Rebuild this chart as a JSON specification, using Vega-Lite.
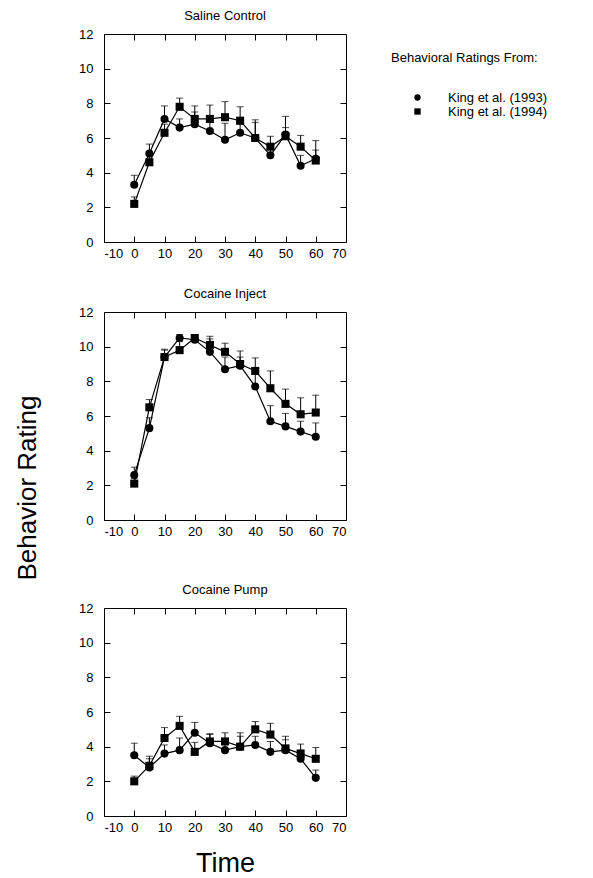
{
  "$schema": "https://vega.github.io/schema/vega-lite/v6.json",
  "padding": {"left": 15, "top": 9, "right": 0, "bottom": 0},
  "background": "white",
  "title": {"text": "Behavior Rating", "orient": "left", "fontSize": 26, "font": "Liberation Sans", "fontWeight": "normal", "anchor": "middle", "offset": 37, "dx": -45},
  "config": {
    "font": "Liberation Sans",
    "view": {"stroke": "black", "strokeWidth": 1},
    "axis": {"grid": false, "labelFont": "Liberation Sans", "labelFontSize": 13, "labelColor": "black", "tickColor": "black", "domain": false},
    "title": {"font": "Liberation Sans", "fontSize": 13, "fontWeight": "normal", "offset": 5},
    "legend": {"titleFont": "Liberation Sans", "labelFont": "Liberation Sans"}
  },
  "datasets": {
    "ratings": [
      {"panel": "Saline Control", "src": "King et al. (1993)", "t": 0, "v": 3.3, "hi": 3.85},
      {"panel": "Saline Control", "src": "King et al. (1993)", "t": 5, "v": 5.1, "hi": 5.65},
      {"panel": "Saline Control", "src": "King et al. (1993)", "t": 10, "v": 7.1, "hi": 7.85},
      {"panel": "Saline Control", "src": "King et al. (1993)", "t": 15, "v": 6.6, "hi": 7.1},
      {"panel": "Saline Control", "src": "King et al. (1993)", "t": 20, "v": 6.8, "hi": 7.5},
      {"panel": "Saline Control", "src": "King et al. (1993)", "t": 25, "v": 6.4, "hi": 6.9},
      {"panel": "Saline Control", "src": "King et al. (1993)", "t": 30, "v": 5.9, "hi": 6.85},
      {"panel": "Saline Control", "src": "King et al. (1993)", "t": 35, "v": 6.3, "hi": 6.8},
      {"panel": "Saline Control", "src": "King et al. (1993)", "t": 40, "v": 6.0, "hi": 6.9},
      {"panel": "Saline Control", "src": "King et al. (1993)", "t": 45, "v": 5.0, "hi": 5.6},
      {"panel": "Saline Control", "src": "King et al. (1993)", "t": 50, "v": 6.2, "hi": 6.6},
      {"panel": "Saline Control", "src": "King et al. (1993)", "t": 55, "v": 4.4, "hi": 5.0},
      {"panel": "Saline Control", "src": "King et al. (1993)", "t": 60, "v": 4.8, "hi": 5.3},
      {"panel": "Saline Control", "src": "King et al. (1994)", "t": 0, "v": 2.2, "hi": 2.6},
      {"panel": "Saline Control", "src": "King et al. (1994)", "t": 5, "v": 4.6, "hi": 5.2},
      {"panel": "Saline Control", "src": "King et al. (1994)", "t": 10, "v": 6.3, "hi": 6.8},
      {"panel": "Saline Control", "src": "King et al. (1994)", "t": 15, "v": 7.8, "hi": 8.3},
      {"panel": "Saline Control", "src": "King et al. (1994)", "t": 20, "v": 7.1, "hi": 7.85},
      {"panel": "Saline Control", "src": "King et al. (1994)", "t": 25, "v": 7.1, "hi": 7.9},
      {"panel": "Saline Control", "src": "King et al. (1994)", "t": 30, "v": 7.2, "hi": 8.1},
      {"panel": "Saline Control", "src": "King et al. (1994)", "t": 35, "v": 7.0, "hi": 7.8},
      {"panel": "Saline Control", "src": "King et al. (1994)", "t": 40, "v": 6.0, "hi": 7.05},
      {"panel": "Saline Control", "src": "King et al. (1994)", "t": 45, "v": 5.5, "hi": 6.1},
      {"panel": "Saline Control", "src": "King et al. (1994)", "t": 50, "v": 6.1, "hi": 7.25},
      {"panel": "Saline Control", "src": "King et al. (1994)", "t": 55, "v": 5.5, "hi": 6.15},
      {"panel": "Saline Control", "src": "King et al. (1994)", "t": 60, "v": 4.7, "hi": 5.85},
      {"panel": "Cocaine Inject", "src": "King et al. (1993)", "t": 0, "v": 2.6, "hi": 3.05},
      {"panel": "Cocaine Inject", "src": "King et al. (1993)", "t": 5, "v": 5.3, "hi": 5.9},
      {"panel": "Cocaine Inject", "src": "King et al. (1993)", "t": 10, "v": 9.4, "hi": 9.85},
      {"panel": "Cocaine Inject", "src": "King et al. (1993)", "t": 15, "v": 10.5, "hi": 10.7},
      {"panel": "Cocaine Inject", "src": "King et al. (1993)", "t": 20, "v": 10.4, "hi": 10.6},
      {"panel": "Cocaine Inject", "src": "King et al. (1993)", "t": 25, "v": 9.7, "hi": 10.45},
      {"panel": "Cocaine Inject", "src": "King et al. (1993)", "t": 30, "v": 8.7, "hi": 9.4},
      {"panel": "Cocaine Inject", "src": "King et al. (1993)", "t": 35, "v": 8.9, "hi": 9.4},
      {"panel": "Cocaine Inject", "src": "King et al. (1993)", "t": 40, "v": 7.7, "hi": 8.4},
      {"panel": "Cocaine Inject", "src": "King et al. (1993)", "t": 45, "v": 5.7, "hi": 6.6},
      {"panel": "Cocaine Inject", "src": "King et al. (1993)", "t": 50, "v": 5.4, "hi": 6.15},
      {"panel": "Cocaine Inject", "src": "King et al. (1993)", "t": 55, "v": 5.1, "hi": 5.7},
      {"panel": "Cocaine Inject", "src": "King et al. (1993)", "t": 60, "v": 4.8, "hi": 5.6},
      {"panel": "Cocaine Inject", "src": "King et al. (1994)", "t": 0, "v": 2.1, "hi": 2.4},
      {"panel": "Cocaine Inject", "src": "King et al. (1994)", "t": 5, "v": 6.5, "hi": 6.95},
      {"panel": "Cocaine Inject", "src": "King et al. (1994)", "t": 10, "v": 9.4, "hi": 9.8},
      {"panel": "Cocaine Inject", "src": "King et al. (1994)", "t": 15, "v": 9.8, "hi": 10.3},
      {"panel": "Cocaine Inject", "src": "King et al. (1994)", "t": 20, "v": 10.5, "hi": 10.7},
      {"panel": "Cocaine Inject", "src": "King et al. (1994)", "t": 25, "v": 10.1, "hi": 10.6},
      {"panel": "Cocaine Inject", "src": "King et al. (1994)", "t": 30, "v": 9.7, "hi": 10.2},
      {"panel": "Cocaine Inject", "src": "King et al. (1994)", "t": 35, "v": 9.0, "hi": 9.75},
      {"panel": "Cocaine Inject", "src": "King et al. (1994)", "t": 40, "v": 8.6, "hi": 9.35},
      {"panel": "Cocaine Inject", "src": "King et al. (1994)", "t": 45, "v": 7.6, "hi": 8.6},
      {"panel": "Cocaine Inject", "src": "King et al. (1994)", "t": 50, "v": 6.7, "hi": 7.55},
      {"panel": "Cocaine Inject", "src": "King et al. (1994)", "t": 55, "v": 6.1, "hi": 7.05},
      {"panel": "Cocaine Inject", "src": "King et al. (1994)", "t": 60, "v": 6.2, "hi": 7.2},
      {"panel": "Cocaine Pump", "src": "King et al. (1993)", "t": 0, "v": 3.5, "hi": 4.2},
      {"panel": "Cocaine Pump", "src": "King et al. (1993)", "t": 5, "v": 2.8, "hi": 3.3},
      {"panel": "Cocaine Pump", "src": "King et al. (1993)", "t": 10, "v": 3.6, "hi": 4.1},
      {"panel": "Cocaine Pump", "src": "King et al. (1993)", "t": 15, "v": 3.8, "hi": 4.5},
      {"panel": "Cocaine Pump", "src": "King et al. (1993)", "t": 20, "v": 4.8, "hi": 5.4},
      {"panel": "Cocaine Pump", "src": "King et al. (1993)", "t": 25, "v": 4.2, "hi": 4.7},
      {"panel": "Cocaine Pump", "src": "King et al. (1993)", "t": 30, "v": 3.8, "hi": 4.3},
      {"panel": "Cocaine Pump", "src": "King et al. (1993)", "t": 35, "v": 4.0, "hi": 4.6},
      {"panel": "Cocaine Pump", "src": "King et al. (1993)", "t": 40, "v": 4.1, "hi": 4.6},
      {"panel": "Cocaine Pump", "src": "King et al. (1993)", "t": 45, "v": 3.7, "hi": 4.3},
      {"panel": "Cocaine Pump", "src": "King et al. (1993)", "t": 50, "v": 3.8, "hi": 4.4},
      {"panel": "Cocaine Pump", "src": "King et al. (1993)", "t": 55, "v": 3.3, "hi": 3.8},
      {"panel": "Cocaine Pump", "src": "King et al. (1993)", "t": 60, "v": 2.2, "hi": 2.65},
      {"panel": "Cocaine Pump", "src": "King et al. (1994)", "t": 0, "v": 2.0, "hi": 2.3},
      {"panel": "Cocaine Pump", "src": "King et al. (1994)", "t": 5, "v": 2.9, "hi": 3.45},
      {"panel": "Cocaine Pump", "src": "King et al. (1994)", "t": 10, "v": 4.5, "hi": 5.1},
      {"panel": "Cocaine Pump", "src": "King et al. (1994)", "t": 15, "v": 5.2, "hi": 5.75},
      {"panel": "Cocaine Pump", "src": "King et al. (1994)", "t": 20, "v": 3.7, "hi": 4.25},
      {"panel": "Cocaine Pump", "src": "King et al. (1994)", "t": 25, "v": 4.3, "hi": 4.75},
      {"panel": "Cocaine Pump", "src": "King et al. (1994)", "t": 30, "v": 4.3, "hi": 4.8},
      {"panel": "Cocaine Pump", "src": "King et al. (1994)", "t": 35, "v": 4.0, "hi": 4.8},
      {"panel": "Cocaine Pump", "src": "King et al. (1994)", "t": 40, "v": 5.0, "hi": 5.45},
      {"panel": "Cocaine Pump", "src": "King et al. (1994)", "t": 45, "v": 4.7, "hi": 5.35},
      {"panel": "Cocaine Pump", "src": "King et al. (1994)", "t": 50, "v": 3.9, "hi": 4.6},
      {"panel": "Cocaine Pump", "src": "King et al. (1994)", "t": 55, "v": 3.6, "hi": 4.15},
      {"panel": "Cocaine Pump", "src": "King et al. (1994)", "t": 60, "v": 3.3, "hi": 3.95}
    ]
  },
  "spacing": 44,
  "vconcat": [
    {
      "spacing": 26,
      "vconcat": [
        {
          "title": "Saline Control",
          "width": 242, "height": 208,
          "data": {"name": "ratings"},
          "transform": [{"filter": "datum.panel === 'Saline Control'"}],
          "resolve": {"axis": {"x": "independent", "y": "independent"}},
          "layer": [
            {"mark": {"type": "rule", "color": "black", "strokeWidth": 1},
             "encoding": {"x": {"field": "t", "type": "quantitative", "scale": {"domain": [-10, 70], "nice": false, "zero": false}, "axis": null},
                          "y": {"field": "v", "type": "quantitative", "scale": {"domain": [0, 12], "nice": false}, "axis": null},
                          "y2": {"field": "hi"}}},
            {"mark": {"type": "tick", "color": "black", "orient": "horizontal", "size": 7, "thickness": 1},
             "encoding": {"x": {"field": "t", "type": "quantitative", "axis": null},
                          "y": {"field": "hi", "type": "quantitative", "axis": null}}},
            {"mark": {"type": "line", "color": "black", "strokeWidth": 1.2},
             "encoding": {"x": {"field": "t", "type": "quantitative", "axis": {"orient": "top", "labels": false, "title": null, "values": [0, 10, 20, 30, 40, 50, 60], "tickSize": -6}},
                          "y": {"field": "v", "type": "quantitative", "axis": {"orient": "right", "labels": false, "title": null, "values": [2, 4, 6, 8, 10], "tickSize": -6}},
                          "detail": {"field": "src"}}},
            {"mark": {"type": "point", "filled": true, "color": "black", "opacity": 1, "size": 65},
             "encoding": {"x": {"field": "t", "type": "quantitative", "axis": {"orient": "bottom", "title": null, "values": [-10, 0, 10, 20, 30, 40, 50, 60, 70], "tickSize": -6, "labelPadding": 11, "labelExpr": "'' + datum.value"}},
                          "y": {"field": "v", "type": "quantitative", "axis": {"orient": "left", "title": null, "values": [0, 2, 4, 6, 8, 10, 12], "tickSize": -6, "labelPadding": 17}},
                          "shape": {"field": "src", "type": "nominal", "scale": {"domain": ["King et al. (1993)", "King et al. (1994)"], "range": ["circle", "square"]},
                                    "legend": {"title": "Behavioral Ratings From:", "orient": "none", "legendX": 287, "legendY": 18, "titleFontSize": 13, "labelFontSize": 13, "titleFontWeight": "normal", "symbolSize": 40, "symbolOffset": 20, "labelOffset": 24, "titlePadding": 26, "rowPadding": -2}}}}
          ]
        },
        {
          "title": "Cocaine Inject",
          "width": 242, "height": 208,
          "data": {"name": "ratings"},
          "transform": [{"filter": "datum.panel === 'Cocaine Inject'"}],
          "resolve": {"axis": {"x": "independent", "y": "independent"}},
          "layer": [
            {"mark": {"type": "rule", "color": "black", "strokeWidth": 1},
             "encoding": {"x": {"field": "t", "type": "quantitative", "scale": {"domain": [-10, 70], "nice": false, "zero": false}, "axis": null},
                          "y": {"field": "v", "type": "quantitative", "scale": {"domain": [0, 12], "nice": false}, "axis": null},
                          "y2": {"field": "hi"}}},
            {"mark": {"type": "tick", "color": "black", "orient": "horizontal", "size": 7, "thickness": 1},
             "encoding": {"x": {"field": "t", "type": "quantitative", "axis": null},
                          "y": {"field": "hi", "type": "quantitative", "axis": null}}},
            {"mark": {"type": "line", "color": "black", "strokeWidth": 1.2},
             "encoding": {"x": {"field": "t", "type": "quantitative", "axis": {"orient": "top", "labels": false, "title": null, "values": [0, 10, 20, 30, 40, 50, 60], "tickSize": -6}},
                          "y": {"field": "v", "type": "quantitative", "axis": {"orient": "right", "labels": false, "title": null, "values": [2, 4, 6, 8, 10], "tickSize": -6}},
                          "detail": {"field": "src"}}},
            {"mark": {"type": "point", "filled": true, "color": "black", "opacity": 1, "size": 65},
             "encoding": {"x": {"field": "t", "type": "quantitative", "axis": {"orient": "bottom", "title": null, "values": [-10, 0, 10, 20, 30, 40, 50, 60, 70], "tickSize": -6, "labelPadding": 11, "labelExpr": "'' + datum.value"}},
                          "y": {"field": "v", "type": "quantitative", "axis": {"orient": "left", "title": null, "values": [0, 2, 4, 6, 8, 10, 12], "tickSize": -6, "labelPadding": 17}},
                          "shape": {"field": "src", "type": "nominal", "scale": {"domain": ["King et al. (1993)", "King et al. (1994)"], "range": ["circle", "square"]}}}}
          ]
        }
      ]
    },
    {
      "title": "Cocaine Pump",
      "width": 242, "height": 208,
      "data": {"name": "ratings"},
      "transform": [{"filter": "datum.panel === 'Cocaine Pump'"}],
      "resolve": {"axis": {"x": "independent", "y": "independent"}},
      "layer": [
        {"mark": {"type": "rule", "color": "black", "strokeWidth": 1},
         "encoding": {"x": {"field": "t", "type": "quantitative", "scale": {"domain": [-10, 70], "nice": false, "zero": false}, "axis": null},
                      "y": {"field": "v", "type": "quantitative", "scale": {"domain": [0, 12], "nice": false}, "axis": null},
                      "y2": {"field": "hi"}}},
        {"mark": {"type": "tick", "color": "black", "orient": "horizontal", "size": 7, "thickness": 1},
         "encoding": {"x": {"field": "t", "type": "quantitative", "axis": null},
                      "y": {"field": "hi", "type": "quantitative", "axis": null}}},
        {"mark": {"type": "line", "color": "black", "strokeWidth": 1.2},
         "encoding": {"x": {"field": "t", "type": "quantitative", "axis": {"orient": "top", "labels": false, "title": null, "values": [0, 10, 20, 30, 40, 50, 60], "tickSize": -6}},
                      "y": {"field": "v", "type": "quantitative", "axis": {"orient": "right", "labels": false, "title": null, "values": [2, 4, 6, 8, 10], "tickSize": -6}},
                      "detail": {"field": "src"}}},
        {"mark": {"type": "point", "filled": true, "color": "black", "opacity": 1, "size": 65},
         "encoding": {"x": {"field": "t", "type": "quantitative", "axis": {"orient": "bottom", "title": "Time", "titleFontSize": 27, "titleFontWeight": "normal", "titleFont": "Liberation Sans", "titlePadding": 16, "values": [-10, 0, 10, 20, 30, 40, 50, 60, 70], "tickSize": -6, "labelPadding": 11, "labelExpr": "'' + datum.value"}},
                      "y": {"field": "v", "type": "quantitative", "axis": {"orient": "left", "title": null, "values": [0, 2, 4, 6, 8, 10, 12], "tickSize": -6, "labelPadding": 17}},
                      "shape": {"field": "src", "type": "nominal", "scale": {"domain": ["King et al. (1993)", "King et al. (1994)"], "range": ["circle", "square"]}}}}
      ]
    }
  ]
}
